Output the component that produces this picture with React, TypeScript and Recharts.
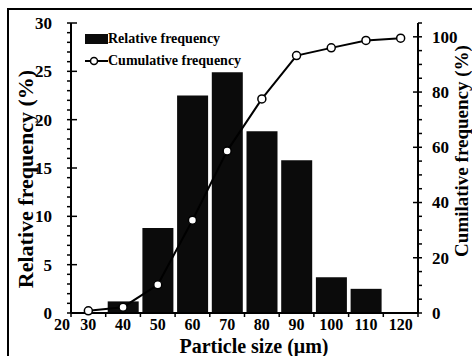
import React from 'react';
import { ComposedChart, Bar, Line, XAxis, YAxis } from 'recharts';

// particle size classes (µm) and the two series
const sizes = [30, 40, 50, 60, 70, 80, 90, 100, 110, 120];
const relativeFreq = [null, 1.2, 8.8, 22.5, 24.9, 18.8, 15.8, 3.7, 2.5, null];
const cumulativeFreq = [0.8, 2.1, 10.2, 33.6, 58.7, 77.5, 93.2, 96.0, 98.7, 99.5];

// x ticks: class edges get a mark, class centres get a label
const xTicks = [25, 30, 35, 40, 45, 50, 55, 60, 65, 70, 75, 80, 85, 90, 95, 100, 105, 110, 115, 120, 125];
const leftTicks = Array.from({ length: 31 }, (_, i) => i);
const rightTicks = Array.from({ length: 22 }, (_, i) => i * 5);

const data = sizes.map((s, i) => ({ size: s, rel: relativeFreq[i], cum: cumulativeFreq[i] }));

const FONT = '"Liberation Serif", "Times New Roman", serif';
const INK = '#000';

const XTick = (props: any) => {
  const { x, y, payload } = props;
  const v = payload.value;
  const edge = (v - 25) % 10 === 0;
  return (
    <g>
      {edge && <line x1={x} x2={x} y1={y} y2={y + 4} stroke={INK} strokeWidth={1.5} />}
      {!edge && (
        <text x={x} y={y + 17} textAnchor="middle" fontFamily={FONT} fontWeight="bold" fontSize={16} fill={INK}>
          {v}
        </text>
      )}
      {v === 25 && (
        <text x={x - 9} y={y + 17} textAnchor="middle" fontFamily={FONT} fontWeight="bold" fontSize={16} fill={INK}>
          20
        </text>
      )}
    </g>
  );
};

const LeftTick = (props: any) => {
  const { x, y, payload } = props;
  const v = payload.value;
  const major = v % 5 === 0;
  return (
    <g>
      <line x1={x - 4} x2={major ? x + 6 : x} y1={y} y2={y} stroke={INK} strokeWidth={1.5} />
      {major && (
        <text x={x - 19} y={y} dy="0.35em" textAnchor="end" fontFamily={FONT} fontWeight="bold" fontSize={17} fill={INK}>
          {v}
        </text>
      )}
    </g>
  );
};

const RightTick = (props: any) => {
  const { x, y, payload } = props;
  const v = payload.value;
  const major = v % 20 === 0;
  return (
    <g>
      <line x1={major ? x - 5 : x} x2={x + 4} y1={y} y2={y} stroke={INK} strokeWidth={1.5} />
      {major && (
        <text x={x + 14} y={y} dy="0.35em" textAnchor="start" fontFamily={FONT} fontWeight="bold" fontSize={17} fill={INK}>
          {v}
        </text>
      )}
    </g>
  );
};

export default function App() {
  return (
    <div style={{ position: 'absolute', top: 0, left: 0, width: 472, height: 356, overflow: 'hidden', background: '#fff' }}>
      {/* figure frame, only top and left edges fall inside the crop */}
      <div style={{ position: 'absolute', top: 8, left: 7, width: 600, height: 600, borderTop: '2px solid #000', borderLeft: '2px solid #000' }} />

      <ComposedChart
        width={472}
        height={356}
        data={data}
        margin={{ top: 23, right: 0, left: 0, bottom: 0 }}
        style={{ position: 'absolute', top: 0, left: 0 }}
      >
        <XAxis
          xAxisId="main"
          dataKey="size"
          type="number"
          domain={[25, 125]}
          ticks={xTicks}
          interval={0}
          height={43}
          tickSize={0}
          tickMargin={0}
          tickLine={false}
          axisLine={{ stroke: INK, strokeWidth: 2 }}
          tick={<XTick />}
        />
        <XAxis xAxisId="top" type="number" orientation="top" domain={[25, 125]} height={0} tick={false} tickLine={false} axisLine={{ stroke: INK, strokeWidth: 2 }} />
        <YAxis
          yAxisId="left"
          domain={[0, 30]}
          ticks={leftTicks}
          interval={0}
          width={71}
          tickSize={0}
          tickMargin={0}
          tickLine={false}
          axisLine={{ stroke: INK, strokeWidth: 2 }}
          tick={<LeftTick />}
        />
        <YAxis
          yAxisId="right"
          orientation="right"
          domain={[0, 105]}
          ticks={rightTicks}
          interval={0}
          width={54}
          tickSize={0}
          tickMargin={0}
          tickLine={false}
          axisLine={{ stroke: INK, strokeWidth: 2 }}
          tick={<RightTick />}
        />
        <Bar xAxisId="main" yAxisId="left" dataKey="rel" fill="#0b0b0b" barSize={31} isAnimationActive={false} />
        <Line
          xAxisId="main"
          yAxisId="right"
          dataKey="cum"
          type="linear"
          stroke={INK}
          strokeWidth={2}
          dot={{ r: 4, fill: '#fff', stroke: INK, strokeWidth: 1.5 }}
          isAnimationActive={false}
        />
      </ComposedChart>

      {/* axis titles */}
      <svg width={472} height={356} style={{ position: 'absolute', top: 0, left: 0, pointerEvents: 'none' }}>
        <text x={25} y={179} transform="rotate(-90 25 179)" textAnchor="middle" dominantBaseline="central" fontFamily={FONT} fontWeight="bold" fontSize={22} fill={INK}>
          Relative frequency (%)
        </text>
        <text x={461} y={151} transform="rotate(-90 461 151)" textAnchor="middle" dominantBaseline="central" fontFamily={FONT} fontWeight="bold" fontSize={19} fill={INK}>
          Cumilative frequency (%)
        </text>
        <text x={254} y={353} textAnchor="middle" fontFamily={FONT} fontWeight="bold" fontSize={20} fill={INK}>
          Particle size (μm)
        </text>
      </svg>

      {/* legend */}
      <div style={{ position: 'absolute', left: 85, top: 30, fontFamily: FONT, fontWeight: 'bold', fontSize: 14, color: INK, lineHeight: '18px' }}>
        <div style={{ display: 'flex', alignItems: 'center', height: 18 }}>
          <span style={{ display: 'inline-block', width: 23, height: 10, background: '#0b0b0b' }} />
          <span>Relative frequency</span>
        </div>
        <div style={{ display: 'flex', alignItems: 'center', height: 18, marginTop: 4 }}>
          <svg width={23} height={12}>
            <line x1={0} x2={23} y1={6} y2={6} stroke={INK} strokeWidth={2} />
            <circle cx={9} cy={6} r={3.5} fill="#fff" stroke={INK} strokeWidth={1.5} />
          </svg>
          <span>Cumulative frequency</span>
        </div>
      </div>
    </div>
  );
}
